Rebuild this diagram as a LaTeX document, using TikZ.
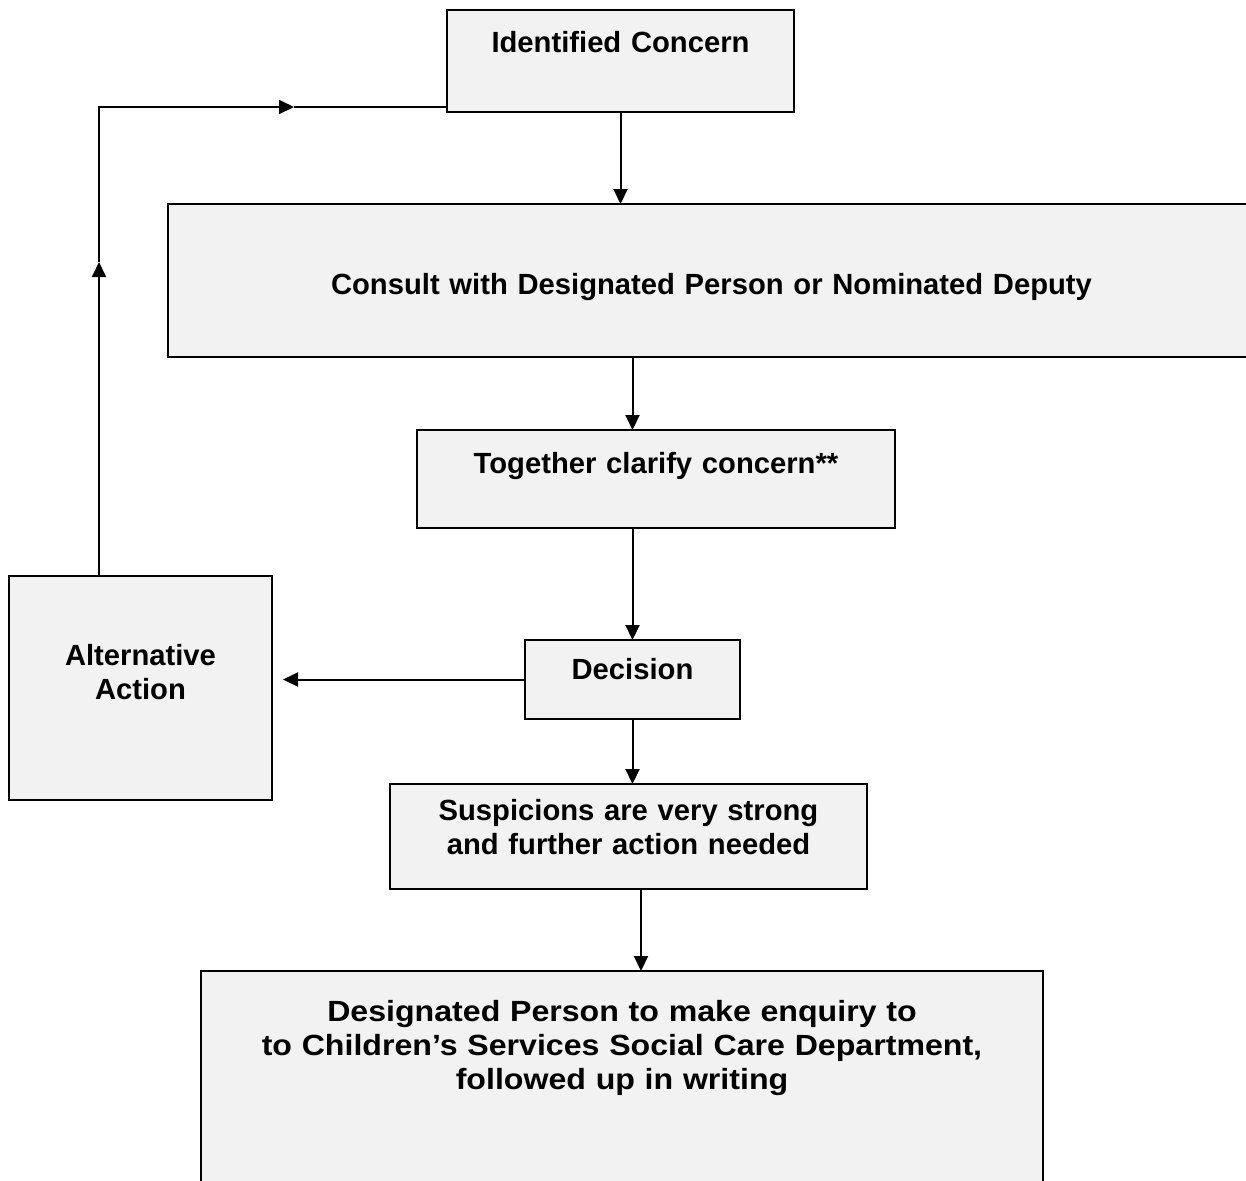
\documentclass[tikz,border=0pt]{standalone}
\usepackage{fontspec}
\setmainfont{Liberation Sans}
\newfontfamily\widesans[FakeStretch=1.1]{Liberation Sans}
\usetikzlibrary{arrows.meta}
\definecolor{cpfill}{HTML}{F2F2F2}
\definecolor{cpline}{HTML}{000000}
\definecolor{cptext}{HTML}{000000}
\tikzset{
  stage/.style={rectangle, draw=cpline, fill=cpfill, line width=1.1pt,
              anchor=north west, align=center, inner sep=0pt, outer sep=0pt,
              text=cptext, text height=0pt,
              font=\fontsize{14.6}{17}\selectfont\bfseries},
  flow/.style={-{Triangle[length=7.5pt, width=7pt]}, draw=cpline, line width=1pt},
  flowline/.style={draw=cpline, line width=1pt},
}

\begin{document}
\begin{tikzpicture}[x=0.5pt, y=-0.5pt]
      \clip (0,0) rectangle (1246,1180);
      % boxes, placed at their top left corners
      \node[stage, minimum width=173.5pt, minimum height=51pt, text width=165pt, text depth=9pt] (concern) at (447,10) {Identified Concern};
      \node[stage, minimum width=543.5pt, minimum height=76.5pt, text width=530pt, text height=13.5pt, text depth=0pt] (consult) at (168,204) {Consult with Designated Person or Nominated Deputy};
      \node[stage, minimum width=239pt, minimum height=49pt, text width=230pt, text depth=6pt] (clarify) at (417,430) {Together clarify concern**};
      \node[stage, minimum width=107.5pt, minimum height=39.5pt, text width=100pt, text depth=0.5pt] (decision) at (525,640) {Decision};
      \node[stage, minimum width=131.5pt, minimum height=112pt, text width=125pt, text depth=23pt] (altaction) at (9,576) {Alternative\\Action};
      \node[stage, minimum width=238.5pt, minimum height=52.5pt, text width=230pt, text depth=16.5pt] (suspicion) at (390,784) {Suspicions are very strong\\and further action needed};
      \node[stage, minimum width=421pt, minimum height=110pt, text width=410pt, text depth=60pt,
            font=\fontsize{14.6}{17}\widesans\bfseries] (enquiry) at (201,971) {Designated Person to make enquiry to\\to Children’s Services Social Care Department,\\followed up in writing};
      % main line down the page
      \draw[flow] (concern.south) -- (concern.south |- consult.north);
      \draw[flow] (decision.north |- consult.south) -- (decision.north |- clarify.north);
      \draw[flow] (decision.north |- clarify.south) -- (decision.north);
      \draw[flow] (decision.south) -- (decision.south |- suspicion.north);
      \draw[flow] ([xshift=6.25pt]suspicion.south) -- ([xshift=6.25pt]suspicion.south |- enquiry.north);
      % side loop back to the top
      \coordinate (loopup) at (99,262);
      \coordinate (loopin) at (294,107);
      \draw[flow] (decision.west) -- ([xshift=5.5pt]altaction.east |- decision.west);
      \draw[flow] ([xshift=-20.75pt]altaction.north) -- (loopup);
      \draw[flow] (loopup) |- (loopin);
      \draw[flowline] (loopin) -- (loopin -| concern.west);
    \end{tikzpicture}
\end{document}
